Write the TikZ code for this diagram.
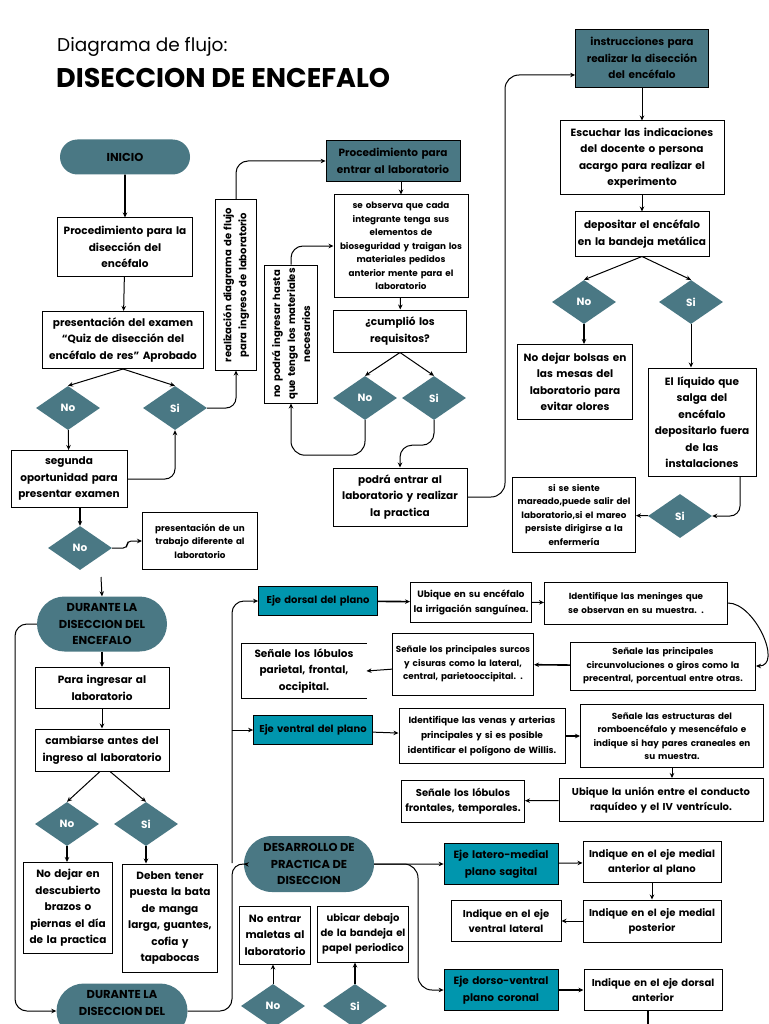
\documentclass[tikz,border=0pt]{standalone}
\usepackage{fontspec}
\setmainfont{Poppins}
\usetikzlibrary{arrows.meta,
    positioning,
    shapes.geometric,
    shapes.misc}

\definecolor{petrol}{HTML}{4A7884}
\definecolor{cyanbox}{HTML}{0096AE}

\tikzset{
    box/.style={draw, line width=1pt, fill=white, align=center, inner xsep=0pt, inner ysep=2pt,
        font=\bfseries\fontsize{10.5}{16.5}\selectfont},
    midbox/.style={box, font=\bfseries\fontsize{10}{15}\selectfont},
    smallbox/.style={box, font=\bfseries\fontsize{8.8}{13.5}\selectfont},
    sz/.style 2 args={text width=#1pt, minimum height=#2pt},
    petrolbox/.style={box, fill=petrol, line width=0.8pt},
    ejebox/.style={box, fill=cyanbox, line width=0.8pt},
    pill/.style={rounded rectangle, fill=petrol, align=center, inner sep=2pt,
        font=\bfseries\fontsize{11.5}{16.5}\selectfont},
    dia/.style={diamond, aspect=1.45, fill=petrol, text=white, inner sep=0pt,
        minimum width=64pt, minimum height=44pt, font=\bfseries\fontsize{10.5}{12}\selectfont},
    arr/.style={-{Stealth[length=5pt,width=4.5pt]}, line width=1pt},
    arrt/.style={arr, line width=1.6pt},
}

\begin{document}
\begin{tikzpicture}[x=1pt,y=-1pt]
    \useasboundingbox (0,0) rectangle (768,1024);
    \fill[white] (0,0) rectangle (768,1024);

    % titulo
    \node[anchor=west, inner sep=0pt, font=\fontsize{18.5}{22}\selectfont] (sub) at (57,47) {Diagrama de flujo:};
    \node[anchor=west, inner sep=0pt, font=\bfseries\fontsize{27}{30}\selectfont] (titulo) at (56,78) {DISECCION DE ENCEFALO};

    % columna izquierda
    \node[pill, minimum width=134pt, minimum height=35pt] (inicio) at (125,157) {INICIO};
    \node[box, sz={135}{58}] (proc) at (125,247) {Procedimiento para la\\disección del\\encéfalo};
    \node[box, sz={161}{57}] (quiz) at (123,340) {presentación del examen\\“Quiz de disección del\\encéfalo de res” Aprobado};
    \node[dia] (no1) at (68,408) {No};
    \node[dia] (si1) at (175,408) {Si};
    \node[box, sz={116}{57}] (segunda) at (69,479) {segunda\\oportunidad para\\presentar examen};
    \node[dia] (no2) at (80,548) {No};
    \node[smallbox, sz={115}{57}] (trabajo) at (200,541) {presentación de un\\trabajo diferente al\\laboratorio};
    \node[pill, minimum width=134pt, minimum height=55pt] (durante) at (102,624) {DURANTE LA\\DISECCION DEL\\ENCEFALO};
    \node[box, sz={134}{41}] (ingresar) at (102,688) {Para ingresar al\\laboratorio};
    \node[box, sz={134}{42}] (cambiarse) at (102,750) {cambiarse antes del\\ingreso al laboratorio};
    \node[dia] (no3) at (67,824) {No};
    \node[dia] (si3) at (146,824) {Si};
    \node[box, sz={89}{91}] (brazos) at (68,908) {No dejar en\\descubierto\\brazos o\\piernas el día\\de la practica};
    \node[box, sz={95}{108}] (bata) at (170,918) {Deben tener\\puesta la bata\\de manga\\larga, guantes,\\cofia y\\tapabocas};
    \node[pill, minimum width=135pt, minimum height=55pt] (durante2) at (122,1011) {DURANTE LA\\DISECCION DEL\\~};

    % centro arriba
    \node[midbox, rotate=90, sz={170}{41}] (diagrama) at (236,285) {realización diagrama de flujo\\para ingreso de laboratorio};
    \node[petrolbox, sz={134}{41}] (entrar) at (393,161) {Procedimiento para\\entrar al laboratorio};
    \node[smallbox, sz={134}{102}] (observa) at (401,246) {se observa que cada\\integrante tenga sus\\elementos de\\bioseguridad y traigan los\\materiales pedidos\\anterior mente para el\\laboratorio};
    \node[box, sz={133}{42}] (cumplio) at (400,331) {¿cumplió los\\requisitos?};
    \node[dia] (no4) at (365,398) {No};
    \node[dia] (si4) at (434,398) {Si};
    \node[midbox, rotate=90, sz={138}{53}] (nopodra) at (291,334) {no podrá ingresar hasta\\que tenga los materiales\\necesarios};
    \node[box, sz={134}{58}] (podra) at (400,497) {podrá entrar al\\laboratorio y realizar\\la practica};

    % columna derecha
    \node[petrolbox, sz={133}{58}] (instr) at (642,58) {instrucciones para\\realizar la disección\\del encéfalo};
    \node[box, sz={164}{74}] (escuchar) at (642,158) {Escuchar las indicaciones\\del docente o persona\\acargo para realizar el\\experimento};
    \node[box, sz={134}{44}] (depositar) at (642,234) {depositar el encéfalo\\en la bandeja metálica};
    \node[dia] (no5) at (584,302) {No};
    \node[dia] (si5) at (691,302) {Si};
    \node[box, sz={115}{75}] (bolsas) at (575,382) {No dejar bolsas en\\las mesas del\\laboratorio para\\evitar olores};
    \node[box, sz={108}{108}] (liquido) at (702,422) {El líquido que\\salga del\\encéfalo\\depositarlo fuera\\de las\\instalaciones};
    \node[dia] (si6) at (680,516) {Si};
    \node[smallbox, sz={123}{75}] (mareo) at (574,515) {si se siente\\mareado,puede salir del\\laboratorio,si el mareo\\persiste dirigirse a la\\enfermería};

    % ejes
    \node[ejebox, midbox, fill=cyanbox, line width=0.8pt, sz={119}{29}] (dorsal) at (318,601) {Eje dorsal del plano};
    \node[box, font=\bfseries\fontsize{9.2}{15}\selectfont, sz={121}{40}] (irrig) at (471,602) {Ubique en su encéfalo\\la irrigación sanguínea.};
    \node[smallbox, sz={183}{42}] (meninges) at (636,603) {Identifique las meninges que\\se observan en su muestra. .};
    \node[smallbox, sz={185}{48}] (circ) at (663,666) {Señale las principales\\circunvoluciones o giros como la\\precentral, porcentual entre otras.};
    \node[smallbox, sz={141}{62}] (surcos) at (463,664) {Señale los principales surcos\\y cisuras como la lateral,\\central, parietooccipital. .};
    \node[box, draw=none, sz={124}{54}] (lobpar) at (304,671) {Señale los lóbulos\\parietal, frontal,\\occipital.};
    \draw[line width=1pt] (lobpar.north east) -- (lobpar.north west) -- (lobpar.south west) -- (lobpar.south east);
    \node[ejebox, midbox, fill=cyanbox, line width=0.8pt, sz={119}{29}] (ventral) at (313,730) {Eje ventral del plano};
    \node[box, font=\bfseries\fontsize{9}{15}\selectfont, sz={166}{55}] (venas) at (482,736) {Identifique las venas y arterias\\principales y si es posible\\identificar el polígono de Willis.};
    \node[smallbox, sz={183}{63}] (estruct) at (672,736) {Señale las estructuras del\\romboencéfalo y mesencéfalo e\\indique si hay pares craneales en\\su muestra.};
    \node[midbox, sz={204}{43}] (union) at (661,800) {Ubique la unión entre el conducto\\raquídeo y el IV ventrículo.};
    \node[midbox, sz={123}{42}] (lobfront) at (463,801) {Señale los lóbulos\\frontales, temporales.};

    % desarrollo
    \node[pill, minimum width=134pt, minimum height=56pt] (desarrollo) at (309,864) {DESARROLLO DE\\PRACTICA DE\\DISECCION};
    \node[ejebox, sz={114}{41}] (latero) at (501,864) {Eje latero-medial\\plano sagital};
    \node[midbox, sz={138}{41}] (medant) at (652,862) {Indique en el eje medial\\anterior al plano};
    \node[midbox, sz={138}{42}] (medpos) at (652,921) {Indique en el eje medial\\posterior};
    \node[midbox, sz={110}{41}] (ventlat) at (506,921) {Indique en el eje\\ventral lateral};
    \node[ejebox, sz={114}{41}] (dorso) at (501,990) {Eje dorso-ventral\\plano coronal};
    \node[midbox, sz={138}{41}] (dorant) at (653,990) {Indique en el eje dorsal\\anterior};
    \node[box, sz={71}{58}] (maletas) at (275,935) {No entrar\\maletas al\\laboratorio};
    \node[midbox, sz={91}{56}] (periodico) at (363,934) {ubicar debajo\\de la bandeja el\\papel periodico};
    \node[dia] (no7) at (273,1006) {No};
    \node[dia] (si7) at (355,1006) {Si};

    \coordinate (dtop) at (101,577);
    \coordinate (leftrail) at (15,800);
    \coordinate (jn) at (232,863);
    \coordinate (br) at (418,864);
    \coordinate (rail) at (505,300);
    \coordinate (offpage) at (648,1030);

    % conectores izquierda
    \draw[arrt] (inicio) -- (proc);
    \draw[arr] (proc) -- (quiz);
    \draw[arr] (quiz.south) -- (no1.north);
    \draw[arr] (quiz.south) -- (si1.north);
    \draw[arr] (no1) -- (segunda);
    \draw[arr, rounded corners=10pt] (segunda.east) -| (si1.south);
    \draw[arr, rounded corners=10pt] (si1.east) -| (diagrama.west);
    \draw[arr, rounded corners=12pt] (diagrama.east) |- (entrar.west);
    \draw[arrt] (segunda.south -| no2.north) -- (no2.north);
    \draw[arr, rounded corners=4pt] (no2.east) -- ++(15,0) |- (trabajo.west);
    \draw[arr] (dtop) -- (durante.north);
    \draw[arrt] (durante) -- (ingresar);
    \draw[arr] (ingresar) -- (cambiarse);
    \draw[arr] ([xshift=-2pt]cambiarse.south) -- (no3.north);
    \draw[arr] ([xshift=8pt]cambiarse.south) -- (si3.north);
    \draw[arrt] (no3) -- (no3 |- brazos.north);
    \draw[arrt] (si3) -- (si3 |- bata.north);
    \draw[arr, rounded corners=12pt] (durante.west) -| (leftrail) |- (durante2.west);
    \draw[arr, rounded corners=12pt] (durante2.east) -| (jn) -- (desarrollo.west);
    \draw[arr, rounded corners=12pt] (jn) |- (dorsal.west);
    \draw[arr] (jn |- ventral.west) -- (ventral.west);

    % conectores centro
    \draw[arr] (entrar.south -| observa.north) -- (observa.north);
    \draw[arr] (observa) -- (cumplio);
    \draw[arr] (cumplio.south) -- (no4.north);
    \draw[arr] (cumplio.south) -- (si4.north);
    \draw[arr, rounded corners=14pt] (no4.south) -- ++(0,35) -| (nopodra.west);
    \draw[arr, rounded corners=12pt] (nopodra.east) |- (observa.west);
    \draw[arr, rounded corners=12pt] (si4.south) -- ++(0,25) -| (podra.north);
    \draw[arr, rounded corners=14pt] (podra.east) -| (rail) |- ([yshift=-17pt]instr.west);

    % conectores derecha
    \draw[arr] (instr) -- (escuchar);
    \draw[arr] (escuchar) -- (depositar);
    \draw[arr] (depositar.south) -- (no5.north);
    \draw[arr] (depositar.south) -- (si5.north);
    \draw[arrt] (no5) -- (no5 |- bolsas.north);
    \draw[arr] (si5) -- (si5 |- liquido.north);
    \draw[arr, rounded corners=10pt] ([xshift=38pt]liquido.south) |- (si6.east);
    \draw[arr] (si6) -- (mareo);

    % conectores ejes
    \draw[arrt] (dorsal) -- (irrig);
    \draw[arr] (irrig) -- (meninges);
    \draw[arr] (meninges.east) to[out=0, in=0, looseness=1] (circ.east);
    \draw[arrt] (circ) -- (surcos);
    \draw[arr] (surcos) -- (lobpar.east);
    \draw[arr] (ventral) -- (venas);
    \draw[arrt] (venas) -- (estruct);
    \draw[arr] (estruct.south) -- (estruct.south |- union.north);
    \draw[arr] (union) -- (lobfront);
    \draw[arr] (desarrollo) -- (latero);
    \draw[arr, rounded corners=14pt] (desarrollo.east) -- (br) |- (dorso.west);
    \draw[arr] (latero) -- (medant);
    \draw[arr] (medant) -- (medpos);
    \draw[arr] (medpos) -- (ventlat);
    \draw[arrt] (dorso) -- (dorant);
    \draw[line width=1.2pt] (dorant.south -| offpage) -- (offpage);
    \draw[arr] (no7.north) -- (no7.north |- maletas.south);
    \draw[arrt] (si7.north) -- (si7.north |- periodico.south);
\end{tikzpicture}
\end{document}
